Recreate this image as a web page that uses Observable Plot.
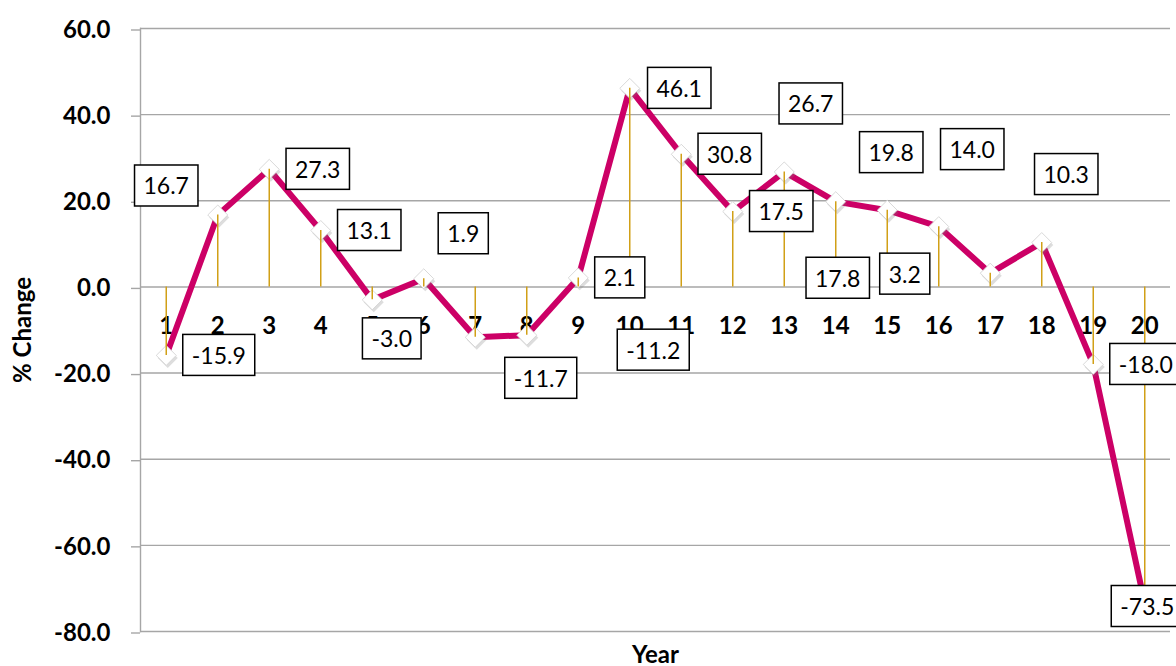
<!DOCTYPE html>
<html>
<head>
<meta charset="utf-8">
<script src="https://cdn.jsdelivr.net/npm/d3@7"></script>
<script src="https://cdn.jsdelivr.net/npm/@observablehq/plot@0.6"></script>
<style>
  html, body { margin: 0; padding: 0; background: #fff; overflow: hidden; }
  #chart { width: 1176px; height: 666px; }
</style>
</head>
<body>
<div id="chart"></div>
<script>
// ---- data ----
const years = ["1","2","3","4","5","6","7","8","9","10","11","12","13","14","15","16","17","18","19","20"];
const pctChange = [-15.9, 16.7, 27.3, 13.1, -3.0, 1.9, -11.7, -11.2, 2.1, 46.1, 30.8, 17.5, 26.7, 19.8, 17.8, 14.0, 3.2, 10.3, -18.0, -73.5];
const yTicks = [-80, -60, -40, -20, 0, 20, 40, 60];

// ---- layout (pixel offsets of each data-label box from its point) ----
const labelOffsets = [
  [53, 0], [-51, -29], [49, 0], [49, 0], [20, 39], [40, -45], [66, 41], [127, 15], [42, 0], [50, 0],
  [49, 0], [49, 0], [27, -68], [56, -49], [-49, 68], [34, -77], [-85, 1], [25, -68], [53, 0], [3, 3]
];

const data = years.map((year, i) => ({year, value: pctChange[i]}));

const ctx = document.createElement("canvas").getContext("2d");
ctx.font = "23px Lato";

const labelMark = Plot.text(data, {
  x: "year", y: "value", text: d => d.value.toFixed(1),
  render(index, scales, values, dimensions, context) {
    const g = d3.create("svg:g");
    const bw = scales.x.bandwidth ? scales.x.bandwidth() / 2 : 0;
    for (const i of index) {
      const [ox, oy] = labelOffsets[i];
      const cx = scales.x(data[i].year) + bw + ox;
      const cy = scales.y(data[i].value) + oy;
      const t = data[i].value.toFixed(1);
      const w = ctx.measureText(t).width + 18;
      g.append("rect")
        .attr("x", cx - w / 2).attr("y", cy - 20.5)
        .attr("width", w).attr("height", 41)
        .attr("fill", "white").attr("stroke", "black").attr("stroke-width", 1.5);
      g.append("text")
        .attr("x", cx).attr("y", cy + 9)
        .attr("text-anchor", "middle")
        .attr("font-family", "Lato").attr("font-size", 23)
        .attr("fill", "black")
        .text(t);
    }
    return g.node();
  }
});

const chart = Plot.plot({
  width: 1176,
  height: 666,
  marginLeft: 140,
  marginRight: 6,
  marginTop: 28,
  marginBottom: 35,
  style: {fontFamily: "Lato", background: "white", color: "black"},
  x: {type: "band", domain: years, padding: 0, round: false, axis: null},
  y: {domain: [-80, 60], axis: null},
  marks: [
    Plot.gridY(yTicks, {stroke: "#a6a6a6", strokeOpacity: 1, strokeWidth: 1.4}),
    Plot.frame({anchor: "left", stroke: "#a6a6a6", strokeWidth: 1.4}),
    Plot.axisY({
      ticks: yTicks, tickSize: 9, tickPadding: 21, tickFormat: d => d.toFixed(1),
      stroke: "#a6a6a6", strokeWidth: 1.4, fill: "black",
      fontSize: 24, fontWeight: "bold", label: null, dy: 1.5
    }),
    Plot.text(years, {x: d => d, y: () => 0, dy: 39, fontSize: 24, fontWeight: "bold", fill: "black"}),
    Plot.line(data, {x: "year", y: "value", stroke: "#cc0066", strokeWidth: 6, strokeLinejoin: "round"}),
    Plot.dot(data, {x: "year", y: "value", symbol: "diamond2", r: 9, fill: "#777", fillOpacity: 0.25, stroke: "none", dx: 1.5, dy: 2.5}),
    Plot.dot(data, {x: "year", y: "value", symbol: "diamond2", r: 9, fill: "white", stroke: "#cfcfcf", strokeWidth: 0.8}),
    Plot.ruleX(data, {x: "year", y1: () => 0, y2: "value", stroke: "#d1a017", strokeWidth: 1.5}),
    labelMark,
    Plot.text(["% Change"], {frameAnchor: "left", textAnchor: "middle", lineAnchor: "middle", rotate: -90, dx: -117, fontSize: 24, fontWeight: "bold", fill: "black"}),
    Plot.text(["Year"], {frameAnchor: "bottom", textAnchor: "middle", lineAnchor: "top", dy: 14, fontSize: 24, fontWeight: "bold", fill: "black"})
  ]
});

document.getElementById("chart").appendChild(chart);
</script>
</body>
</html>
